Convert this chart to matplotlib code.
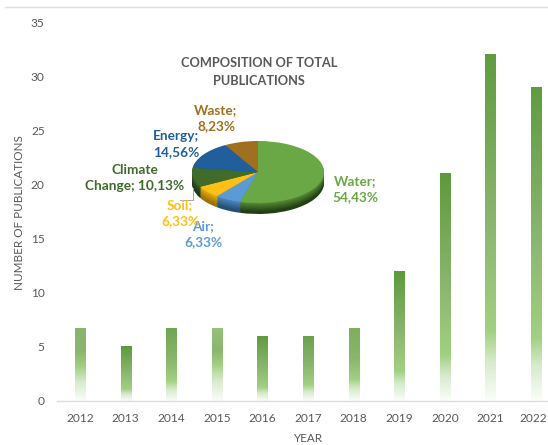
import numpy as np
import matplotlib
matplotlib.use("Agg")
import matplotlib.pyplot as plt
from matplotlib.colors import LinearSegmentedColormap, to_rgb
from matplotlib.lines import Line2D
from matplotlib.transforms import ScaledTranslation

years = [2012, 2013, 2014, 2015, 2016, 2017, 2018, 2019, 2020, 2021, 2022]
publications = [6.7, 5, 6.7, 6.7, 6, 6, 6.7, 12, 21, 32, 29]
bar_colors = ["#86b56c", "#5c9a3c", "#6fa653", "#93c278", "#5f9c40", "#6aa24c",
              "#7cb060", "#5c9a3c", "#5c9a3c", "#5f9c40", "#5f9c40"]
fade_starts = [0.53, 0.78, 0.72, 0.5, 0.79, 0.75, 0.7, 0.77, 0.8, 0.8, 0.8]

sectors = ["Water", "Air", "Soil", "Climate\nChange", "Energy", "Waste"]
shares = [54.43, 6.33, 6.33, 10.13, 14.56, 8.23]
sector_colors = ["#6aa845", "#5b9bd5", "#ffc013", "#3f6b2b", "#205f9c", "#9e7020"]
side_colors = ["#233f14", "#264f78", "#9c7206", "#20361a", "#123a60", "#5a3f10"]

W, H = 548, 445
plt.rcParams["font.family"] = ["Lato", "DejaVu Sans"]
fig = plt.figure(figsize=(W / 100, H / 100), dpi=100)


def box(left, top, right, bottom):
    return [left / W, 1 - bottom / H, (right - left) / W, (bottom - top) / H]


ax = fig.add_axes(box(57.2, 22, 548, 400.5))
bar_half = 0.112
for year, value, color, fade in zip(years, publications, bar_colors, fade_starts):
    # top colour through a pale green, then out to nothing at the baseline
    shade = LinearSegmentedColormap.from_list(
        "bar", [(0, color), (fade * 0.6, "#8ab56e"), (fade, "#a2d082"),
                (fade + 0.45 * (1 - fade), "#d8ebcd"), (1, "#fbfdfa")])
    ramp = shade(np.linspace(0, 1, 256))[:, None, :]
    ax.imshow(ramp, extent=(year - bar_half, year + bar_half, 0, value),
              origin="upper", aspect="auto", interpolation="bilinear", zorder=2)
ax.set_xlim(2011.5, 2022.26)
ax.set_ylim(0, 35)
for side in ("top", "right", "left"):
    ax.spines[side].set_visible(False)
ax.spines["bottom"].set_color("#dcdcdc")
ax.spines["bottom"].set_linewidth(1)
ax.set_xticks(years)
ax.set_yticks(range(0, 36, 5))
ax.tick_params(length=0, labelsize=8.6, labelcolor="#595959")
ax.tick_params(axis="x", pad=9)
ax.tick_params(axis="y", pad=9)
# keep the last year inside the figure edge
last_label = ax.get_xticklabels()[-1]
last_label.set_transform(last_label.get_transform()
                         + ScaledTranslation(-2 / 72, 0, fig.dpi_scale_trans))
fig.text(308 / W, 1 - 438 / H, "YEAR", ha="center", va="center",
         fontsize=8.4, color="#595959")
fig.text(20 / W, 1 - 213 / H, "NUMBER OF PUBLICATIONS", rotation=90,
         ha="center", va="center", fontsize=8.4, color="#595959")
fig.add_artist(Line2D([5 / W, 1], [1 - 7 / H] * 2, color="#dedede", lw=1))

# Pie with a shaded rim: stacked copies below the top surface
rim_layers = 12
rim_depth = 11
for i in range(rim_layers, -1, -1):
    shift = rim_depth * i / rim_layers
    pie_ax = fig.add_axes(box(192, 141 + shift, 324, 203 + shift))
    if i == 0:
        faces = sector_colors
    else:
        mix = min(1, 0.25 + 0.9 * i / rim_layers)
        faces = [tuple((1 - mix) * np.array(to_rgb(a)) + mix * np.array(to_rgb(b)))
                 for a, b in zip(sector_colors, side_colors)]
    pie_ax.pie(shares, colors=faces, startangle=90, counterclock=False,
               normalize=True, radius=1)
    pie_ax.set_aspect("auto")
    pie_ax.set_xlim(-1, 1)
    pie_ax.set_ylim(-1, 1)
    pie_ax.patch.set_visible(False)

labels = [
    (355, 189, "Water;\n54,43%", "#6aa845"),
    (203, 234, "Air;\n6,33%", "#5b9bd5"),
    (180, 213, "Soil;\n6,33%", "#ffc013"),
    (135, 178, "Climate\nChange; 10,13%", "#3f6b2b"),
    (176, 144, "Energy;\n14,56%", "#205f9c"),
    (216, 118, "Waste;\n8,23%", "#9e7020"),
]
for x, y, text, color in labels:
    fig.text(x / W, 1 - y / H, text, ha="center", va="center", color=color,
             fontsize=9.8, fontweight="bold", linespacing=1.4, zorder=5)
fig.add_artist(Line2D([193 / W, 193 / W, 180 / W],
                      [1 - 188 / H, 1 - 200 / H, 1 - 200 / H],
                      color="#a6a6a6", lw=0.7))
fig.text(259 / W, 1 - 72 / H, "COMPOSITION OF TOTAL\nPUBLICATIONS", ha="center",
         va="center", color="#595959", fontsize=9.2, fontweight="bold", linespacing=1.55)

fig.savefig("out.png", dpi=100)
